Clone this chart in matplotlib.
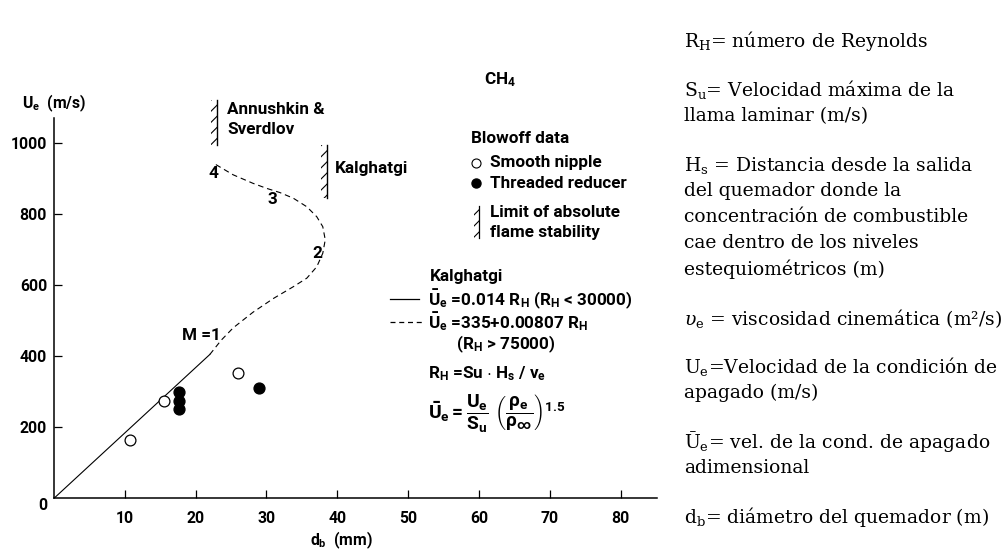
import matplotlib
matplotlib.use("Agg")
import matplotlib.pyplot as plt
from matplotlib.lines import Line2D
from matplotlib.patches import Rectangle

# blowoff measurements, burner diameter (mm) vs exit velocity (m/s)
smooth_d = [10.8, 15.6, 26.0]
smooth_u = [164, 275, 352]
threaded_d = [17.7, 17.7, 17.7, 29.0]
threaded_u = [300, 275, 251, 312]

# Kalghatgi correlation: sonic part (M = 1) and the high-Re branch
sonic_d = [0, 22.0]
sonic_u = [0, 405]
branch_d = [22.0, 23.6, 25.3, 28.1, 31.0, 33.8, 35.7, 37.1, 37.95, 38.3,
            37.95, 37.1, 35.7, 33.8, 31.9, 30.0, 28.1, 25.3, 22.5]
branch_u = [405, 445, 480, 524, 563, 596, 620, 652, 690, 728,
            765, 793, 821, 845, 861, 873, 887, 911, 944]

# limits of absolute flame stability: (d, u_low, u_high)
limit_annushkin = (23.0, 995, 1122)
limit_kalghatgi = (38.5, 845, 995)

x_ticks = [10, 20, 30, 40, 50, 60, 70, 80]
y_ticks = [200, 400, 600, 800, 1000]

notes = [
    [r"R$_\mathrm{H}$= número de Reynolds"],
    [r"S$_\mathrm{u}$= Velocidad máxima de la", "llama laminar (m/s)"],
    [r"H$_\mathrm{s}$ = Distancia desde la salida", "del quemador donde la",
     "concentración de combustible", "cae dentro de los niveles",
     "estequiométricos (m)"],
    [r"$\upsilon_\mathrm{e}$ = viscosidad cinemática (m²/s)"],
    [r"U$_\mathrm{e}$=Velocidad de la condición de", "apagado (m/s)"],
    [r"Ū$_\mathrm{e}$= vel. de la cond. de apagado", "adimensional"],
    [r"d$_\mathrm{b}$= diámetro del quemador (m)"],
]

plot_font = dict(family="Roboto", weight="bold")
plt.rcParams["mathtext.fontset"] = "custom"
for k in ("rm", "it", "bf", "sf"):
    plt.rcParams["mathtext." + k] = "Roboto:bold"
plt.rcParams["hatch.linewidth"] = 0.8

W, H = 1003, 550
fig = plt.figure(figsize=(W / 100, H / 100), dpi=100)
renderer = fig.canvas.get_renderer()


def size_for(sample, width_px, cap):
    # font size that gives the sample string the wanted pixel width
    t = fig.text(0, 0, sample, fontsize=10, **plot_font)
    w = t.get_window_extent(renderer).width
    t.remove()
    return min(10 * width_px / w, cap)


fs = size_for("Threaded reducer", 137, 13)
fs_tick = size_for("1000", 36, 13.5)


def at(x, y):
    return x / W, 1 - y / H


def label(x, y, s, size=None, **kw):
    fig.text(*at(x, y), s, fontsize=size or fs, ha=kw.pop("ha", "left"),
             va=kw.pop("va", "center"), **plot_font, **kw)


ax = fig.add_axes([54 / W, (H - 498.3) / H, 602.7 / W, 380.3 / H])
ax.set_xlim(0, 85.1)
ax.set_ylim(0, 1071)
for side in ("top", "right"):
    ax.spines[side].set_visible(False)
for side in ("left", "bottom"):
    ax.spines[side].set_linewidth(1.1)
ax.set_xticks(x_ticks)
ax.set_yticks(y_ticks)
ax.tick_params(direction="in", length=6, width=0.9)
ax.tick_params(axis="x", pad=9)
ax.tick_params(axis="y", pad=5)
for t in ax.get_xticklabels() + ax.get_yticklabels():
    t.set_fontsize(fs_tick)
    t.set(**plot_font)
ax.annotate("0", xy=(0, 0), xytext=(-7, -7), textcoords="offset pixels",
            ha="right", va="center", fontsize=fs_tick, annotation_clip=False,
            **plot_font)

ax.plot(sonic_d, sonic_u, color="black", lw=0.8)
ax.plot(branch_d, branch_u, color="black", lw=0.8, dashes=(5, 3.5))
ax.plot(smooth_d, smooth_u, "o", ms=7.8, mfc="white", mec="black", mew=0.9)
ax.plot(threaded_d, threaded_u, "o", ms=7.8, mfc="black", mec="black")

for d, lo, hi in (limit_annushkin, limit_kalghatgi):
    ax.plot([d, d], [lo, hi], color="black", lw=1.0, clip_on=False)
    ax.add_patch(Rectangle((d - 0.8, lo), 0.8, hi - lo, hatch="///",
                           fill=False, edgecolor="black", lw=0, clip_on=False))

# axis titles
label(22, 103, r"$U_e$  (m/s)", size=fs_tick)
label(341, 540, r"$d_b$  (mm)", size=fs_tick, ha="center")

# curve annotations
label(208, 173, "4")
label(268, 200, "3")
label(312, 253, "2")
label(182, 336, "M =1")
label(227, 110, "Annushkin &")
label(227, 129, "Sverdlov")
label(335, 168, "Kalghatgi")

# key
label(484, 80, r"CH$_4$")
label(471, 138, "Blowoff data")
fig.add_artist(Line2D([476 / W], [1 - 163 / H], marker="o", ms=6.5, mfc="white",
                      mec="black", mew=0.8, transform=fig.transFigure))
label(490, 163, "Smooth nipple")
fig.add_artist(Line2D([476 / W], [1 - 183 / H], marker="o", ms=6.5, mfc="black",
                      mec="black", transform=fig.transFigure))
label(490, 183, "Threaded reducer")
fig.add_artist(Line2D([479 / W] * 2, [1 - 206 / H, 1 - 238 / H], color="black",
                      lw=0.9, transform=fig.transFigure))
fig.add_artist(Rectangle(at(474, 238), 5 / W, 32 / H, hatch="///", fill=False,
                         edgecolor="black", lw=0, transform=fig.transFigure))
label(490, 213, "Limit of absolute")
label(490, 232, "flame stability")

label(430, 277, "Kalghatgi")
fig.add_artist(Line2D([390 / W, 419 / W], [1 - 299 / H] * 2, color="black",
                      lw=0.9, transform=fig.transFigure))
label(428, 299, r"$\bar{U}_e$ =0.014 R$_H$ (R$_H$ < 30000)")
fig.add_artist(Line2D([390 / W, 422 / W], [1 - 322 / H] * 2, color="black",
                      lw=0.9, dashes=(4, 3), transform=fig.transFigure))
label(428, 322, r"$\bar{U}_e$ =335+0.00807 R$_H$")
label(456, 344, r"(R$_H$ > 75000)")
label(428, 374, r"R$_H$ =Su $\cdot$ H$_s$ / $\nu_e$")
label(428, 414, r"$\bar{U}_e = \dfrac{U_e}{S_u}\ \left(\dfrac{\rho_e}{\rho_\infty}\right)^{1.5}$",
      size=fs + 1.5)

# definitions column
y = 41
for block in notes:
    for line in block:
        fig.text(*at(684, y), line, fontsize=13.5, family="DejaVu Serif",
                 math_fontfamily="dejavuserif", ha="left", va="center")
        y += 26
    y += 23

fig.savefig("out.png", dpi=100, facecolor="white")
